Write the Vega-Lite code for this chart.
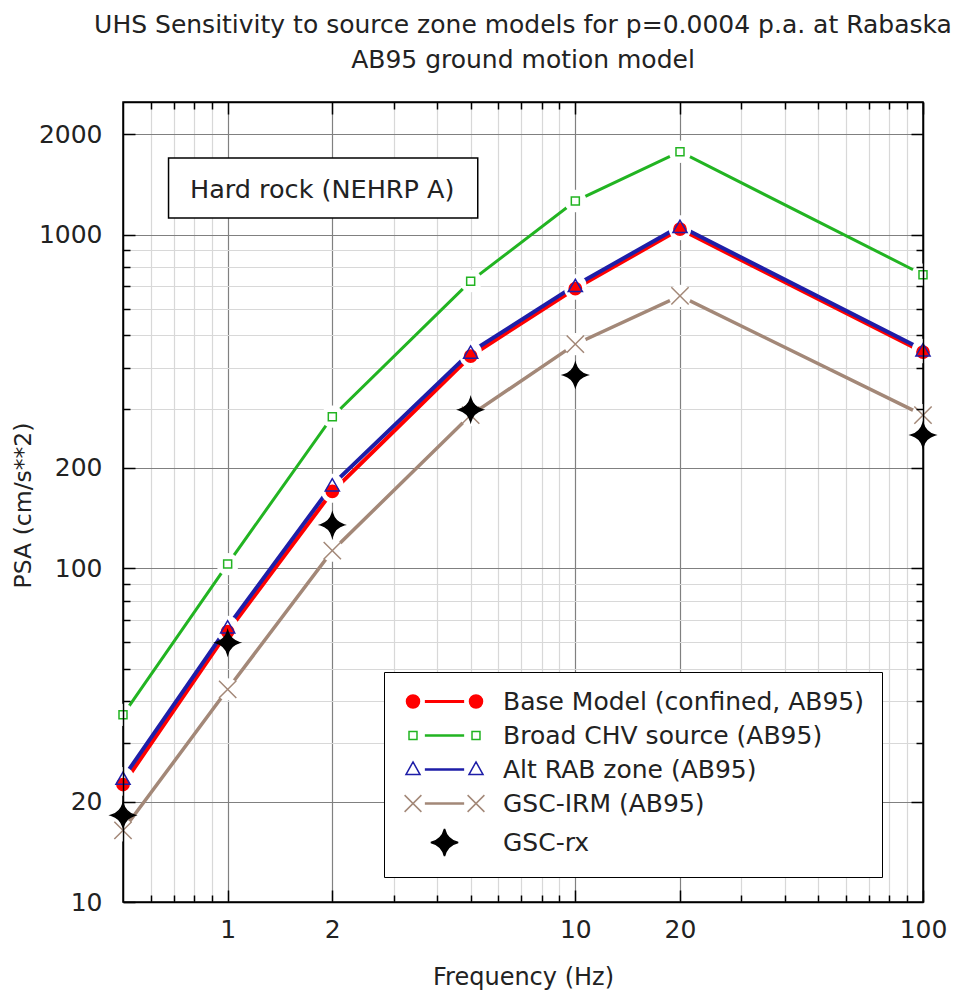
{
  "$schema": "https://vega.github.io/schema/vega-lite/v6.json",
  "width": 800,
  "height": 800,
  "autosize": "none",
  "padding": {"left": 123, "top": 102, "right": 34, "bottom": 98},
  "background": "white",
  "config": {
    "view": {"stroke": "#000", "strokeWidth": 1.5},
    "font": "DejaVu Sans"
  },
  "title": {
    "text": ["UHS Sensitivity to source zone models for p=0.0004 p.a. at Rabaska", "AB95 ground motion model"],
    "font": "DejaVu Sans",
    "fontSize": 25,
    "fontWeight": "normal",
    "color": "#222",
    "anchor": "middle",
    "frame": "group",
    "lineHeight": 35,
    "offset": 28
  },
  "datasets": {
    "uhs": [
      {"f": 0.5, "psa": 36.4, "series": "Broad CHV source (AB95)"},
      {"f": 1, "psa": 103, "series": "Broad CHV source (AB95)"},
      {"f": 2, "psa": 285, "series": "Broad CHV source (AB95)"},
      {"f": 5, "psa": 726, "series": "Broad CHV source (AB95)"},
      {"f": 10, "psa": 1262, "series": "Broad CHV source (AB95)"},
      {"f": 20, "psa": 1774, "series": "Broad CHV source (AB95)"},
      {"f": 100, "psa": 759, "series": "Broad CHV source (AB95)"},
      {"f": 0.5, "psa": 16.4, "series": "GSC-IRM (AB95)"},
      {"f": 1, "psa": 43.4, "series": "GSC-IRM (AB95)"},
      {"f": 2, "psa": 113, "series": "GSC-IRM (AB95)"},
      {"f": 5, "psa": 288, "series": "GSC-IRM (AB95)"},
      {"f": 10, "psa": 470, "series": "GSC-IRM (AB95)"},
      {"f": 20, "psa": 656, "series": "GSC-IRM (AB95)"},
      {"f": 100, "psa": 288, "series": "GSC-IRM (AB95)"},
      {"f": 0.5, "psa": 22.5, "series": "Base Model (confined, AB95)"},
      {"f": 1, "psa": 64.6, "series": "Base Model (confined, AB95)"},
      {"f": 2, "psa": 170, "series": "Base Model (confined, AB95)"},
      {"f": 5, "psa": 433, "series": "Base Model (confined, AB95)"},
      {"f": 10, "psa": 690, "series": "Base Model (confined, AB95)"},
      {"f": 20, "psa": 1040, "series": "Base Model (confined, AB95)"},
      {"f": 100, "psa": 445, "series": "Base Model (confined, AB95)"},
      {"f": 0.5, "psa": 23.5, "series": "Alt RAB zone (AB95)"},
      {"f": 1, "psa": 66.8, "series": "Alt RAB zone (AB95)"},
      {"f": 2, "psa": 178, "series": "Alt RAB zone (AB95)"},
      {"f": 5, "psa": 445, "series": "Alt RAB zone (AB95)"},
      {"f": 10, "psa": 705, "series": "Alt RAB zone (AB95)"},
      {"f": 20, "psa": 1060, "series": "Alt RAB zone (AB95)"},
      {"f": 100, "psa": 452, "series": "Alt RAB zone (AB95)"},
      {"f": 0.5, "psa": 18.2, "series": "GSC-rx"},
      {"f": 1, "psa": 59.9, "series": "GSC-rx"},
      {"f": 2, "psa": 135, "series": "GSC-rx"},
      {"f": 5, "psa": 299, "series": "GSC-rx"},
      {"f": 10, "psa": 380, "series": "GSC-rx"},
      {"f": 100, "psa": 251, "series": "GSC-rx"}
    ]
  },
  "data": {"name": "uhs"},
  "layer": [
    {
      "data": {"values": [{}]},
      "mark": {"type": "rect", "fill": "white", "stroke": "#000", "strokeWidth": 1.5},
      "encoding": {
        "x": {"datum": 0.676, "type": "quantitative", "axis": null},
        "x2": {"datum": 5.24},
        "y": {"datum": 1698, "type": "quantitative", "axis": null},
        "y2": {"datum": 1122}
      }
    },
    {
      "data": {"values": [{}]},
      "mark": {"type": "text", "font": "DejaVu Sans", "fontSize": 25.5, "color": "#222", "align": "center", "baseline": "middle"},
      "encoding": {
        "x": {"datum": 1.87, "type": "quantitative", "axis": null},
        "y": {"datum": 1362, "type": "quantitative", "axis": null},
        "text": {"value": "Hard rock (NEHRP A)"}
      }
    },
    {
      "transform": [{"filter": "datum.series != 'GSC-rx'"}],
      "mark": {"type": "line", "strokeJoin": "miter", "strokeCap": "butt"},
      "encoding": {
        "x": {
          "field": "f", "type": "quantitative",
          "scale": {"type": "log", "domain": [0.5, 100], "nice": false},
          "axis": {
            "orient": "bottom", "zindex": 0,
            "values": [0.6, 0.7, 0.8, 0.9, 1, 2, 3, 4, 5, 6, 7, 8, 9, 10, 20, 30, 40, 50, 60, 70, 80, 90, 100],
            "labels": false, "ticks": false, "domain": false, "title": null,
            "grid": true,
            "gridColor": {"condition": {"test": "indexof([1,2,10,20,100], datum.value) >= 0", "value": "#808080"}, "value": "#d8d8d8"},
            "gridWidth": 1.2
          }
        },
        "y": {
          "field": "psa", "type": "quantitative",
          "scale": {"type": "log", "domain": [10, 2500], "nice": false},
          "axis": {
            "orient": "left", "zindex": 0,
            "values": [10, 20, 30, 40, 50, 60, 70, 80, 90, 100, 200, 300, 400, 500, 600, 700, 800, 900, 1000, 2000],
            "labels": false, "ticks": false, "domain": false, "title": null,
            "grid": true,
            "gridColor": {"condition": {"test": "indexof([10,20,100,200,1000,2000], datum.value) >= 0", "value": "#808080"}, "value": "#d8d8d8"},
            "gridWidth": 1.2
          }
        },
        "stroke": {
          "field": "series", "type": "nominal", "legend": null,
          "scale": {
            "domain": ["Base Model (confined, AB95)", "Broad CHV source (AB95)", "Alt RAB zone (AB95)", "GSC-IRM (AB95)", "GSC-rx"],
            "range": ["#ff0000", "#22b422", "#1e1ea8", "#a38878", "#000000"]
          }
        },
        "strokeWidth": {
          "field": "series", "type": "nominal", "legend": null,
          "scale": {
            "type": "ordinal",
            "domain": ["Base Model (confined, AB95)", "Broad CHV source (AB95)", "Alt RAB zone (AB95)", "GSC-IRM (AB95)", "GSC-rx"],
            "range": [4, 3, 4, 3.5, 0]
          }
        }
      }
    },
    {
      "transform": [{"filter": "datum.series != 'GSC-rx'"}],
      "mark": {"type": "point", "shape": "circle", "filled": true, "fill": "white", "opacity": 1, "strokeWidth": 0, "size": 500},
      "encoding": {
        "x": {
          "field": "f", "type": "quantitative",
          "axis": {
            "orient": "bottom", "zindex": 1,
            "values": [0.6, 0.7, 0.8, 0.9, 1, 2, 3, 4, 5, 6, 7, 8, 9, 10, 20, 30, 40, 50, 60, 70, 80, 90, 100],
            "labelExpr": "indexof([1,2,10,20,100], datum.value) >= 0 ? '' + datum.value : ''",
            "labelOverlap": false, "labelFlush": false,
            "labelFont": "DejaVu Sans", "labelFontSize": 25, "labelColor": "#222",
            "labelPadding": 27,
            "tickSize": {"condition": {"test": "indexof([1,2,10,20,100], datum.value) >= 0", "value": -12}, "value": -7},
            "tickColor": "#000", "tickWidth": 1.5,
            "domainColor": "#000", "domainWidth": 1.5,
            "grid": false,
            "title": "Frequency (Hz)",
            "titleFont": "DejaVu Sans", "titleFontSize": 24, "titleFontWeight": "normal", "titleColor": "#222",
            "titleX": 400, "titleY": 75, "titleBaseline": "middle", "titleAlign": "center"
          }
        },
        "y": {
          "field": "psa", "type": "quantitative",
          "axis": {
            "orient": "left", "zindex": 1,
            "values": [10, 20, 30, 40, 50, 60, 70, 80, 90, 100, 200, 300, 400, 500, 600, 700, 800, 900, 1000, 2000],
            "labelExpr": "indexof([10,20,100,200,1000,2000], datum.value) >= 0 ? '' + datum.value : ''",
            "labelOverlap": false, "labelFlush": false,
            "labelFont": "DejaVu Sans", "labelFontSize": 25, "labelColor": "#222",
            "labelPadding": 33,
            "tickSize": {"condition": {"test": "indexof([10,20,100,200,1000,2000], datum.value) >= 0", "value": -12}, "value": -7},
            "tickColor": "#000", "tickWidth": 1.5,
            "domainColor": "#000", "domainWidth": 1.5,
            "grid": false,
            "title": "PSA (cm/s**2)",
            "titleFont": "DejaVu Sans", "titleFontSize": 23.5, "titleFontWeight": "normal", "titleColor": "#222",
            "titleX": -100, "titleY": 403, "titleBaseline": "middle", "titleAlign": "center", "titleAngle": 270
          }
        }
      }
    },
    {
      "mark": {"type": "point", "strokeWidth": 1.5, "opacity": 1},
      "encoding": {
        "x": {
          "field": "f", "type": "quantitative",
          "axis": {
            "orient": "top", "zindex": 1, "values": [0.6, 0.7, 0.8, 0.9, 1, 2, 3, 4, 5, 6, 7, 8, 9, 10, 20, 30, 40, 50, 60, 70, 80, 90, 100],
            "labels": false, "grid": false, "title": null,
            "tickSize": {"condition": {"test": "indexof([1,2,10,20,100], datum.value) >= 0", "value": -12}, "value": -7},
            "tickColor": "#000", "tickWidth": 1.5, "domainColor": "#000", "domainWidth": 1.5
          }
        },
        "y": {
          "field": "psa", "type": "quantitative",
          "axis": {
            "orient": "right", "zindex": 1, "values": [20, 30, 40, 50, 60, 70, 80, 90, 100, 200, 300, 400, 500, 600, 700, 800, 900, 1000, 2000],
            "labels": false, "grid": false, "title": null,
            "tickSize": {"condition": {"test": "indexof([10,20,100,200,1000,2000], datum.value) >= 0", "value": -12}, "value": -7},
            "tickColor": "#000", "tickWidth": 1.5, "domainColor": "#000", "domainWidth": 1.5
          }
        },
        "shape": {
          "field": "series", "type": "nominal", "legend": null,
          "scale": {
            "domain": ["Base Model (confined, AB95)", "Broad CHV source (AB95)", "Alt RAB zone (AB95)", "GSC-IRM (AB95)", "GSC-rx"],
            "range": ["circle", "square", "triangle-up", "M-1,-1L1,1M-1,1L1,-1", "M0,-1Q0.22,-0.22 1,0Q0.22,0.22 0,1Q-0.22,0.22 -1,0Q-0.22,-0.22 0,-1Z"]
          }
        },
        "size": {
          "field": "series", "type": "nominal", "legend": null,
          "scale": {
            "type": "ordinal",
            "domain": ["Base Model (confined, AB95)", "Broad CHV source (AB95)", "Alt RAB zone (AB95)", "GSC-IRM (AB95)", "GSC-rx"],
            "range": [150, 64, 200, 300, 560]
          }
        },
        "stroke": {
          "field": "series", "type": "nominal", "legend": null,
          "scale": {
            "domain": ["Base Model (confined, AB95)", "Broad CHV source (AB95)", "Alt RAB zone (AB95)", "GSC-IRM (AB95)", "GSC-rx"],
            "range": ["#ff0000", "#22b422", "#1e1ea8", "#a38878", "#000000"]
          }
        },
        "fill": {
          "field": "series", "type": "nominal", "legend": null,
          "scale": {
            "domain": ["Base Model (confined, AB95)", "Broad CHV source (AB95)", "Alt RAB zone (AB95)", "GSC-IRM (AB95)", "GSC-rx"],
            "range": ["#ff0000", "transparent", "transparent", "transparent", "#000000"]
          }
        }
      }
    },
    {
      "mark": {"type": "point", "opacity": 0, "strokeWidth": 1.5},
      "encoding": {
        "x": {"field": "f", "type": "quantitative", "axis": null},
        "y": {"field": "psa", "type": "quantitative", "axis": null},
        "shape": {
          "field": "series", "type": "nominal",
          "scale": {
            "domain": ["Base Model (confined, AB95)", "Broad CHV source (AB95)", "Alt RAB zone (AB95)", "GSC-IRM (AB95)", "GSC-rx"],
            "range": [
              "M-3.62,0A0.62,0.62 0 1,0 -2.38,0A0.62,0.62 0 1,0 -3.62,0Z M2.38,0A0.62,0.62 0 1,0 3.62,0A0.62,0.62 0 1,0 2.38,0Z M-1.8,-0.06H1.8V0.06H-1.8Z",
              "M-3.38,-0.38H-2.62V0.38H-3.38Z M2.62,-0.38H3.38V0.38H2.62Z M-1.8,-0.04H1.8V0.04H-1.8Z",
              "M-3,-0.72L-2.33,0.48H-3.67Z M3,-0.72L3.67,0.48H2.33Z M-1.8,-0.05H1.8V0.05H-1.8Z",
              "M-3.8,-0.8L-2.2,0.8M-3.8,0.8L-2.2,-0.8 M2.2,-0.8L3.8,0.8M2.2,0.8L3.8,-0.8 M-1.8,-0.05H1.8V0.05H-1.8Z",
              "M0,-1.3Q0.25,-0.25 1.3,0Q0.25,0.25 0,1.3Q-0.25,0.25 -1.3,0Q-0.25,-0.25 0,-1.3Z"
            ]
          },
          "legend": {
            "title": null, "orient": "none", "legendX": 261, "legendY": 570,
            "symbolSize": 441, "symbolStrokeWidth": 1.5, "symbolOpacity": 1, "symbolOffset": 31,
            "labelFont": "DejaVu Sans", "labelFontSize": 25, "labelColor": "#222", "labelLimit": 0,
            "labelOffset": 46, "rowPadding": 8, "padding": 17,
            "fillColor": "white", "strokeColor": "#000"
          }
        },
        "stroke": {
          "field": "series", "type": "nominal",
          "scale": {
            "domain": ["Base Model (confined, AB95)", "Broad CHV source (AB95)", "Alt RAB zone (AB95)", "GSC-IRM (AB95)", "GSC-rx"],
            "range": ["#ff0000", "#22b422", "#1e1ea8", "#a38878", "#000000"]
          },
          "legend": {
            "title": null, "orient": "none", "legendX": 261, "legendY": 570,
            "symbolSize": 441, "symbolStrokeWidth": 1.5, "symbolOpacity": 1, "symbolOffset": 31,
            "labelFont": "DejaVu Sans", "labelFontSize": 25, "labelColor": "#222", "labelLimit": 0,
            "labelOffset": 46, "rowPadding": 8, "padding": 17,
            "fillColor": "white", "strokeColor": "#000"
          }
        },
        "fill": {
          "field": "series", "type": "nominal",
          "scale": {
            "domain": ["Base Model (confined, AB95)", "Broad CHV source (AB95)", "Alt RAB zone (AB95)", "GSC-IRM (AB95)", "GSC-rx"],
            "range": ["#ff0000", "transparent", "transparent", "transparent", "#000000"]
          },
          "legend": {
            "title": null, "orient": "none", "legendX": 261, "legendY": 570,
            "symbolSize": 441, "symbolStrokeWidth": 1.5, "symbolOpacity": 1, "symbolOffset": 31,
            "labelFont": "DejaVu Sans", "labelFontSize": 25, "labelColor": "#222", "labelLimit": 0,
            "labelOffset": 46, "rowPadding": 8, "padding": 17,
            "fillColor": "white", "strokeColor": "#000"
          }
        }
      }
    }
  ],
  "resolve": {
    "scale": {"stroke": "independent", "fill": "independent", "shape": "independent", "size": "independent", "strokeWidth": "independent"},
    "axis": {"x": "independent", "y": "independent"}
  }
}
